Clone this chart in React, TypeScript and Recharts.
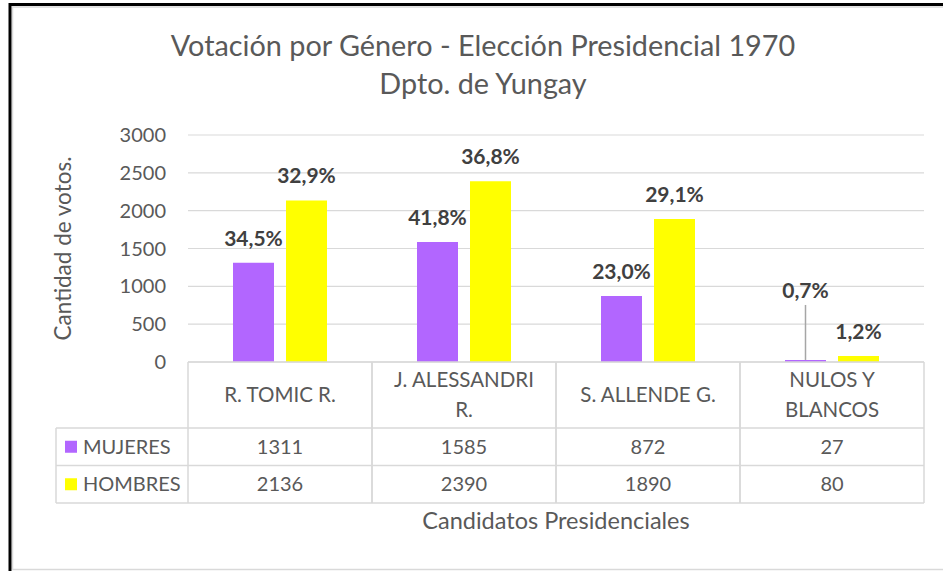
import React from 'react';
import { BarChart, Bar, XAxis, YAxis, CartesianGrid, LabelList } from 'recharts';

const titleLines = ['Votación por Género - Elección Presidencial 1970', 'Dpto. de Yungay'];
const categoryLines = [['R. TOMIC R.'], ['J. ALESSANDRI', 'R.'], ['S. ALLENDE G.'], ['NULOS Y', 'BLANCOS']];
const categories = categoryLines.map((l) => l.join(' '));
const mujeres = [1311, 1585, 872, 27];
const hombres = [2136, 2390, 1890, 80];
const mujeresPct = ['34,5%', '41,8%', '23,0%', '0,7%'];
const hombresPct = ['32,9%', '36,8%', '29,1%', '1,2%'];
const seriesNames = ['MUJERES', 'HOMBRES'];
const yTicks = [0, 500, 1000, 1500, 2000, 2500, 3000];
const yLabel = 'Cantidad de votos.';
const xLabel = 'Candidatos Presidenciales';

const PURPLE = '#B266FF';
const YELLOW = '#FFFF00';
const GRID = '#d9d9d9';
const TXT = '#595959';
const LBL = '#404040';
const FONT = 'Lato, sans-serif';

const data = categories.map((c, i) => ({
  name: c,
  mujeres: mujeres[i],
  hombres: hombres[i],
  mPct: mujeresPct[i],
  hPct: hombresPct[i],
}));

const HEAD_H = 66;
const ROW_H = 37.5;
const LEGEND_W = 132;

function TableColumn(props: any) {
  const { x, y, payload, index } = props;
  const half = payload && payload.offset ? payload.offset : 92;
  const l = x - half;
  const r = x + half;
  const y0 = y;
  const y1 = y0 + HEAD_H;
  const y2 = y1 + ROW_H;
  const y3 = y2 + ROW_H;
  const lines = categoryLines[index] || [String(payload.value)];
  const mid = (y0 + y1) / 2;
  const lh = 29.5;
  const values = [mujeres[index], hombres[index]];
  const colors = [PURPLE, YELLOW];
  return (
    <g>
      <line x1={l} x2={r} y1={y0} y2={y0} stroke={GRID} strokeWidth={1.5} />
      <line x1={l} x2={r} y1={y1} y2={y1} stroke={GRID} strokeWidth={1.5} />
      <line x1={l} x2={r} y1={y2} y2={y2} stroke={GRID} strokeWidth={1.5} />
      <line x1={l} x2={r} y1={y3} y2={y3} stroke={GRID} strokeWidth={1.5} />
      <line x1={l} x2={l} y1={y0} y2={y3} stroke={GRID} strokeWidth={1.5} />
      <line x1={r} x2={r} y1={y0} y2={y3} stroke={GRID} strokeWidth={1.5} />
      {lines.map((t: string, k: number) => (
        <text
          key={k}
          x={x}
          y={mid + (k - (lines.length - 1) / 2) * lh}
          dy="0.35em"
          textAnchor="middle"
          fill={TXT}
          fontSize={20.5}
          fontFamily={FONT}
        >
          {t}
        </text>
      ))}
      {values.map((v, k) => (
        <text
          key={'v' + k}
          x={x}
          y={y1 + ROW_H * (k + 0.5)}
          dy="0.35em"
          textAnchor="middle"
          fill={TXT}
          fontSize={20}
          fontFamily={FONT}
        >
          {v}
        </text>
      ))}
      {index === 0 && (
        <g>
          <line x1={l - LEGEND_W} x2={l} y1={y1} y2={y1} stroke={GRID} strokeWidth={1.5} />
          <line x1={l - LEGEND_W} x2={l} y1={y2} y2={y2} stroke={GRID} strokeWidth={1.5} />
          <line x1={l - LEGEND_W} x2={l} y1={y3} y2={y3} stroke={GRID} strokeWidth={1.5} />
          <line x1={l - LEGEND_W} x2={l - LEGEND_W} y1={y1} y2={y3} stroke={GRID} strokeWidth={1.5} />
          {seriesNames.map((s, k) => (
            <g key={s}>
              <rect x={l - LEGEND_W + 9} y={y1 + ROW_H * (k + 0.5) - 6} width={12} height={12} fill={colors[k]} />
              <text
                x={l - LEGEND_W + 27}
                y={y1 + ROW_H * (k + 0.5)}
                dy="0.35em"
                fill={TXT}
                fontSize={20}
                fontFamily={FONT}
              >
                {s}
              </text>
            </g>
          ))}
        </g>
      )}
    </g>
  );
}

function makeLabel(raiseIndex: number) {
  return (props: any) => {
    const { x, y, width, value, index } = props;
    const cx = Number(x) + Number(width) / 2;
    const top = Number(y);
    if (index === raiseIndex) {
      return (
        <g>
          <line x1={cx} x2={cx} y1={top - 55} y2={top} stroke="#a6a6a6" strokeWidth={1.5} />
          <text x={cx} y={top - 69} dy="0.35em" textAnchor="middle" fill={LBL} fontSize={21} fontWeight="bold" fontFamily={FONT}>
            {value}
          </text>
        </g>
      );
    }
    return (
      <text x={cx} y={top - 24.5} dy="0.35em" textAnchor="middle" fill={LBL} fontSize={21} fontWeight="bold" fontFamily={FONT}>
        {value}
      </text>
    );
  };
}

export default function App() {
  return (
    <div style={{ position: 'absolute', left: 0, top: 0, width: 943, height: 571, background: '#fff', overflow: 'hidden' }}>
      <svg width={943} height={571} style={{ position: 'absolute', left: 0, top: 0 }}>
        <rect x={0} y={0} width={943} height={571} fill="#fff" />
        <line x1={12.5} x2={12.5} y1={6} y2={569} stroke={GRID} strokeWidth={1.5} />
        <line x1={12} x2={943} y1={7} y2={7} stroke={GRID} strokeWidth={1.5} />
        <line x1={12} x2={943} y1={569.5} y2={569.5} stroke={GRID} strokeWidth={1.5} />
        <line x1={10} x2={10} y1={3} y2={571} stroke="#000" strokeWidth={3} />
        <line x1={9} x2={943} y1={4.5} y2={4.5} stroke="#000" strokeWidth={3} />
        <text x={483} y={56} textAnchor="middle" fill={TXT} fontSize={28.8} fontFamily={FONT}>
          {titleLines[0]}
        </text>
        <text x={483} y={93.5} textAnchor="middle" fill={TXT} fontSize={28.8} fontFamily={FONT}>
          {titleLines[1]}
        </text>
      </svg>
      <div style={{ position: 'absolute', left: 0, top: 0 }}>
        <BarChart
          width={943}
          height={571}
          data={data}
          margin={{ top: 135, right: 19, bottom: 0, left: 48 }}
          barSize={41}
          barGap={12}
        >
          <CartesianGrid horizontal={true} vertical={false} stroke={GRID} strokeWidth={1.2} />
          <YAxis
            width={140}
            domain={[0, 3000]}
            ticks={yTicks}
            interval={0}
            axisLine={false}
            tickLine={false}
            tickSize={0}
            tickMargin={22}
            tick={{ fill: TXT, fontSize: 20, fontFamily: FONT }}
            label={{
              value: yLabel,
              angle: -90,
              position: 'insideLeft',
              offset: 15,
              fill: TXT,
              fontSize: 22.5,
              fontFamily: FONT,
              style: { textAnchor: 'middle' },
            }}
          />
          <XAxis
            dataKey="name"
            height={209}
            interval={0}
            axisLine={false}
            tickLine={false}
            tickSize={0}
            tickMargin={0}
            tick={(p: any) => <TableColumn {...p} />}
            label={{
              value: xLabel,
              position: 'insideBottom',
              offset: 42,
              fill: TXT,
              fontSize: 23.5,
              fontFamily: FONT,
            }}
          />
          <Bar dataKey="mujeres" fill={PURPLE} isAnimationActive={false}>
            <LabelList dataKey="mPct" content={makeLabel(3)} />
          </Bar>
          <Bar dataKey="hombres" fill={YELLOW} isAnimationActive={false}>
            <LabelList dataKey="hPct" content={makeLabel(-1)} />
          </Bar>
        </BarChart>
      </div>
    </div>
  );
}
